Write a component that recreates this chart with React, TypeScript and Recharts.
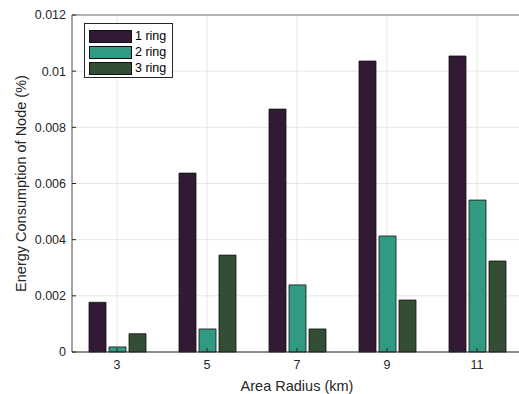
import React from "react";
import {
  Bar,
  BarChart,
  CartesianGrid,
  Label,
  ReferenceLine,
  XAxis,
  YAxis,
} from "recharts";

const radii = ["3", "5", "7", "9", "11"];
const ring1 = [0.00177, 0.00637, 0.00865, 0.01036, 0.01054];
const ring2 = [0.00018, 0.00082, 0.00239, 0.00413, 0.00541];
const ring3 = [0.00065, 0.00345, 0.00082, 0.00185, 0.00324];
const yTicks = [0, 0.002, 0.004, 0.006, 0.008, 0.01, 0.012];

const seriesInfo = [
  { key: "ring1", name: "1 ring", color: "#321a34" },
  { key: "ring2", name: "2 ring", color: "#309a82" },
  { key: "ring3", name: "3 ring", color: "#344e35" },
];

const chartData = radii.map((r, i) => ({
  radius: r,
  ring1: ring1[i],
  ring2: ring2[i],
  ring3: ring3[i],
}));

const font = '"Liberation Sans", Arial, Helvetica, sans-serif';

// legend box sits on top of the plot, like matlab's "northwest" legend
function RingLegend() {
  return (
    <div
      style={{
        position: "absolute",
        left: 84,
        top: 23,
        width: 83,
        background: "#fff",
        border: "1px solid #262626",
        padding: "4px 0 1px 4px",
        fontFamily: font,
        fontSize: 12.5,
        color: "#000",
      }}
    >
      {seriesInfo.map((s) => (
        <div
          key={s.key}
          style={{ display: "flex", alignItems: "center", height: 16 }}
        >
          <span
            style={{
              display: "inline-block",
              width: 41,
              height: 11,
              background: s.color,
              border: "1px solid #111",
              marginRight: 3,
            }}
          />
          <span>{s.name}</span>
        </div>
      ))}
    </div>
  );
}

export default function App() {
  return (
    <div
      style={{
        position: "fixed",
        left: 0,
        top: 0,
        width: 519,
        height: 394,
        overflow: "hidden",
        background: "#fff",
      }}
    >
      <BarChart
        width={530}
        height={394}
        data={chartData}
        margin={{ top: 15, right: 8, left: 0, bottom: 0 }}
        barSize={17}
        barGap={3}
        style={{ fontFamily: font }}
      >
        <CartesianGrid stroke="#e6e6e6" strokeWidth={1} />
        <XAxis
          dataKey="radius"
          height={42}
          tickSize={-4}
          tickMargin={12}
          tickLine={{ stroke: "#262626" }}
          axisLine={{ stroke: "#262626" }}
          tick={{ fontSize: 12.5, fill: "#262626" }}
        >
          <Label
            value="Area Radius (km)"
            position="center"
            dy={13}
            style={{ fontSize: 14.5, fill: "#262626" }}
          />
        </XAxis>
        <YAxis
          width={72}
          domain={[0, 0.012]}
          ticks={yTicks}
          interval={0}
          tickSize={-4}
          tickMargin={10}
          tickLine={{ stroke: "#262626" }}
          axisLine={{ stroke: "#555" }}
          tick={{ fontSize: 12.5, fill: "#262626" }}
          tickFormatter={(v: number) => String(v)}
        >
          <Label
            value="Energy Consumption of Node (%)"
            angle={-90}
            position="center"
            dx={-15}
            style={{ fontSize: 14.5, fill: "#262626", textAnchor: "middle" }}
          />
        </YAxis>
        <ReferenceLine y={0.012} stroke="#777" strokeWidth={1} />
        {seriesInfo.map((s) => (
          <Bar
            key={s.key}
            dataKey={s.key}
            name={s.name}
            fill={s.color}
            stroke="#111"
            strokeWidth={0.8}
            isAnimationActive={false}
          />
        ))}
      </BarChart>
      <RingLegend />
    </div>
  );
}
